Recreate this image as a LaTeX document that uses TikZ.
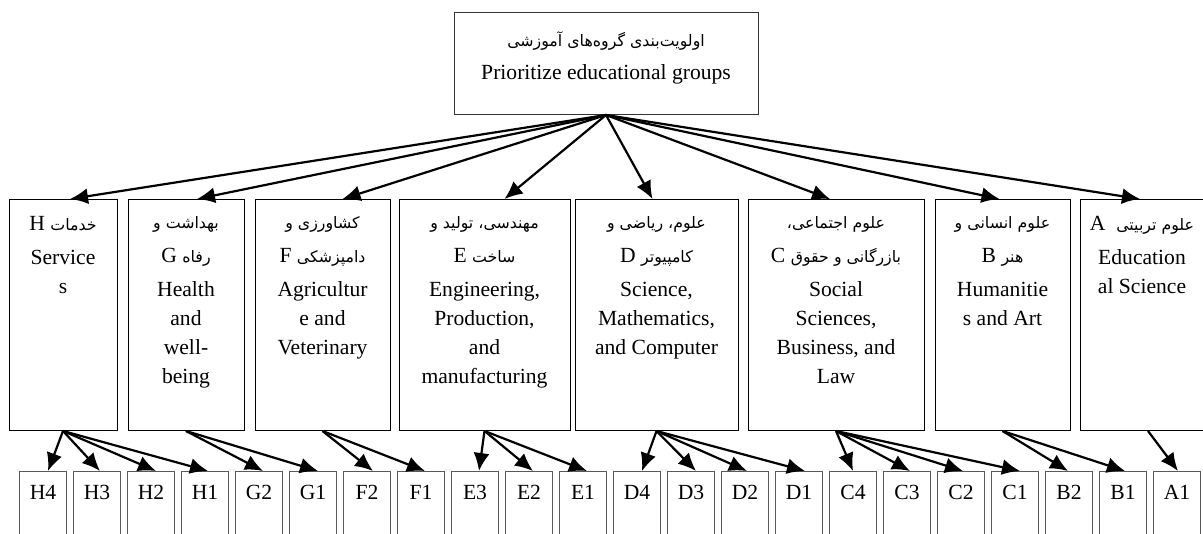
\documentclass[tikz,border=0pt]{standalone}
\usepackage{fontspec}
\setmainfont{Liberation Serif}
\newfontfamily\fa[Script=Arabic]{DejaVu Sans}
\TeXXeTstate=1
\usepackage{tikz}
\usetikzlibrary{calc}
\usetikzlibrary{arrows.meta}
\usetikzlibrary{positioning}

\newcommand{\fatxt}[1]{{\fa\fontsize{7.9}{10}\selectfont #1}}

\tikzset{
  rootbox/.style={rectangle, draw=black!80, line width=0.5pt, minimum width=152pt, minimum height=51pt, anchor=north, inner sep=0pt},
  grpbox/.style={rectangle, draw=black, line width=0.5pt, minimum height=115.5pt, anchor=north, inner sep=0pt},
  grptext/.style={align=center, inner sep=0pt, font=\fontsize{10.8}{14.5}\selectfont},
  subbox/.style={rectangle, draw=black!65, line width=0.5pt, minimum width=23.5pt, anchor=north, inner sep=0pt, text height=14pt, text depth=20.5pt, font=\fontsize{10.8}{13}\selectfont},
  link/.style={-{Latex[length=9pt,width=8pt]}, line width=1.1pt, draw=black},
}

\begin{document}
\begin{tikzpicture}[x=0.5pt, y=-0.5pt]
\useasboundingbox (0,0) rectangle (1203,534);

\node [rootbox] (root) at (606,12) {};
\node [grptext, below=9.5pt of root.north] (roott) {\beginR\fatxt{اولویت^^^^200cبندی گروه^^^^200cهای آموزشی}\endR\\[2pt] Prioritize educational groups};

\node [grpbox, minimum width=54pt] (H) at (63,199) {};
\node [grpbox, minimum width=58pt] (G) at (186,199) {};
\node [grpbox, minimum width=67.5pt] (F) at (322.5,199) {};
\node [grpbox, minimum width=85.5pt] (E) at (484.5,199) {};
\node [grpbox, minimum width=81.5pt] (D) at (656.5,199) {};
\node [grpbox, minimum width=88pt] (C) at (836,199) {};
\node [grpbox, minimum width=67.5pt] (B) at (1002.5,199) {};
\node [grpbox, minimum width=62pt] (A) at (1142,199) {};

\node [grptext, below=8.5pt of H.north] (Ht) {\beginR\fatxt{خدمات} H\endR\\[2.5pt] Service\\ s};
\node [grptext, below=8.5pt of G.north] (Gt) {\beginR\fatxt{بهداشت و}\endR\\[2.5pt] \beginR\fatxt{رفاه} G\endR\\[2.5pt] Health\\ and\\ well-\\ being};
\node [grptext, below=8.5pt of F.north] (Ft) {\beginR\fatxt{کشاورزی و}\endR\\[2.5pt] \beginR\fatxt{دامپزشکی} F\endR\\[2.5pt] Agricultur\\ e and\\ Veterinary};
\node [grptext, below=8.5pt of E.north] (Et) {\beginR\fatxt{مهندسی، تولید و}\endR\\[2.5pt] \beginR\fatxt{ساخت} E\endR\\[2.5pt] Engineering,\\ Production,\\ and\\ manufacturing};
\node [grptext, below=8.5pt of D.north] (Dt) {\beginR\fatxt{علوم، ریاضی و}\endR\\[2.5pt] \beginR\fatxt{کامپیوتر} D\endR\\[2.5pt] Science,\\ Mathematics,\\ and Computer};
\node [grptext, below=8.5pt of C.north] (Ct) {\beginR\fatxt{علوم اجتماعی،}\endR\\[2.5pt] \beginR\fatxt{بازرگانی و حقوق} C\endR\\[2.5pt] Social\\ Sciences,\\ Business, and\\ Law};
\node [grptext, below=8.5pt of B.north] (Bt) {\beginR\fatxt{علوم انسانی و}\endR\\[2.5pt] \beginR\fatxt{هنر} B\endR\\[2.5pt] Humanitie\\ s and Art};
\node [grptext, below=8.5pt of A.north] (At) {\beginR\fatxt{علوم تربیتی}\ \ A\endR\\[2.5pt] Education\\ al Science};

\node [subbox] (H4) at (43,471) {H4};
\node [subbox] (H3) at (97,471) {H3};
\node [subbox] (H2) at (151,471) {H2};
\node [subbox] (H1) at (205,471) {H1};
\node [subbox] (G2) at (259,471) {G2};
\node [subbox] (G1) at (313,471) {G1};
\node [subbox] (F2) at (367,471) {F2};
\node [subbox] (F1) at (421,471) {F1};
\node [subbox] (E3) at (475,471) {E3};
\node [subbox] (E2) at (529,471) {E2};
\node [subbox] (E1) at (583,471) {E1};
\node [subbox] (D4) at (637,471) {D4};
\node [subbox] (D3) at (691,471) {D3};
\node [subbox] (D2) at (745,471) {D2};
\node [subbox] (D1) at (799,471) {D1};
\node [subbox] (C4) at (853,471) {C4};
\node [subbox] (C3) at (907,471) {C3};
\node [subbox] (C2) at (961,471) {C2};
\node [subbox] (C1) at (1015,471) {C1};
\node [subbox] (B2) at (1069,471) {B2};
\node [subbox] (B1) at (1123,471) {B1};
\node [subbox] (A1) at (1177,471) {A1};

\draw [link] (root.south) to ($(H.north)+(7,0)$);
\draw [link] (root.south) to ($(G.north)+(11,0)$);
\draw [link] (root.south) to ($(F.north)+(20,0)$);
\draw [link] (root.south) to ($(E.north)+(20,0)$);
\draw [link] (root.south) to ($(D.north)+(-4,0)$);
\draw [link] (root.south) to ($(C.north)+(-6,0)$);
\draw [link] (root.south) to ($(B.north)+(-3,0)$);
\draw [link] (root.south) to ($(A.north)+(-2,0)$);

\draw [link] (H.south) to ($(H4.north)+(5,0)$);
\draw [link] (H.south) to ($(H3.north)+(3,0)$);
\draw [link] (H.south) to ($(H2.north)+(5,0)$);
\draw [link] (H.south) to ($(H1.north)+(3,0)$);
\draw [link] (G.south) to ($(G2.north)+(4,0)$);
\draw [link] (G.south) to ($(G1.north)+(5,0)$);
\draw [link] (F.south) to ($(F2.north)+(6,0)$);
\draw [link] (F.south) to ($(F1.north)+(4,0)$);
\draw [link] (E.south) to ($(E3.north)+(4,0)$);
\draw [link] (E.south) to ($(E2.north)+(4,0)$);
\draw [link] (E.south) to ($(E1.north)+(4,0)$);
\draw [link] (D.south) to ($(D4.north)+(5,0)$);
\draw [link] (D.south) to ($(D3.north)+(5,0)$);
\draw [link] (D.south) to ($(D2.north)+(2,0)$);
\draw [link] (D.south) to ($(D1.north)+(6,0)$);
\draw [link] (C.south) to ($(C4.north)+(0,0)$);
\draw [link] (C.south) to ($(C3.north)+(3,0)$);
\draw [link] (C.south) to ($(C2.north)+(2,0)$);
\draw [link] (C.south) to ($(C1.north)+(5,0)$);
\draw [link] (B.south) to ($(B2.north)+(-1,0)$);
\draw [link] (B.south) to ($(B1.north)+(2,0)$);
\draw [link] ($(A.south)+(6,0)$) to ($(A1.north)+(1,0)$);
\end{tikzpicture}
\end{document}
